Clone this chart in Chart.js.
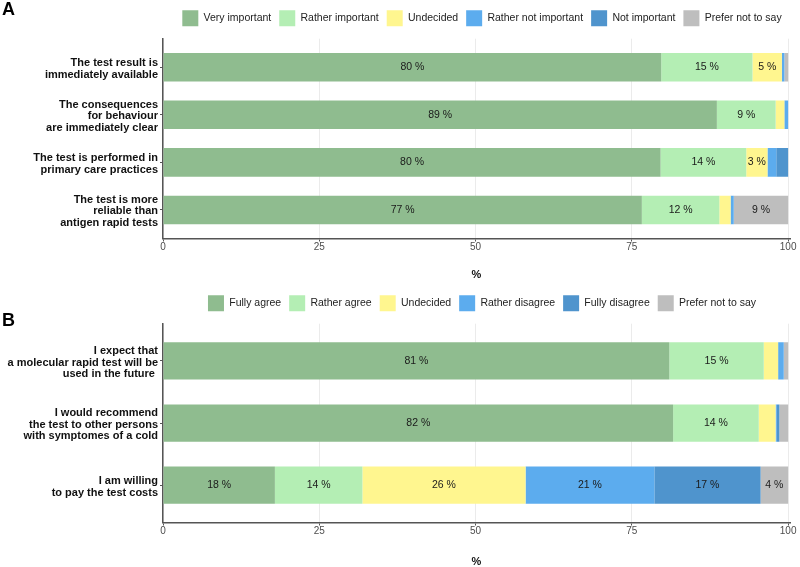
<!DOCTYPE html>
<html><head><meta charset="utf-8">
<script src="https://cdn.jsdelivr.net/npm/chart.js@4.4.0/dist/chart.umd.min.js"></script>
<style>
html,body{margin:0;padding:0;background:#fff;width:800px;height:567px;overflow:hidden;}
.panel{position:absolute;left:0;width:800px;}
.tag{position:absolute;left:2px;font:bold 18px "Liberation Sans",Arial,sans-serif;line-height:1;color:#000;z-index:2;}
</style></head><body>
<div class="panel" style="top:0;height:284px"><canvas id="cA"></canvas></div>
<div class="panel" style="top:284px;height:283px"><canvas id="cB"></canvas></div>
<div class="tag" style="top:0px">A</div>
<div class="tag" style="top:311px">B</div>
<script>
// ---- data ----
const xTicks = [0, 25, 50, 75, 100];

const catsA = [
  "The test result is\nimmediately available",
  "The consequences\nfor behaviour\nare immediately clear",
  "The test is performed in\nprimary care practices",
  "The test is more\nreliable than\nantigen rapid tests"
];
const legendA = ["Very important", "Rather important", "Undecided", "Rather not important", "Not important", "Prefer not to say"];
const veryImportant      = [79.7, 88.6, 79.6, 76.6];
const ratherImportant    = [14.6,  9.4, 13.7, 12.4];
const undecidedA         = [ 4.7,  1.4,  3.4,  1.8];
const ratherNotImportant = [ 0.4,  0.6,  1.4,  0.5];
const notImportant       = [ 0.0,  0.0,  1.9,  0.0];
const preferNotA         = [ 0.6,  0.0,  0.0,  8.7];

const catsB = [
  "I expect that\na molecular rapid test will be\nused in the future ",
  "I would recommend\nthe test to other persons\nwith symptomes of a cold",
  "I am willing\nto pay the test costs"
];
const legendB = ["Fully agree", "Rather agree", "Undecided", "Rather disagree", "Fully disagree", "Prefer not to say"];
const fullyAgree     = [81.0, 81.6, 17.9];
const ratherAgree    = [15.1, 13.7, 14.0];
const undecidedB     = [ 2.3,  2.7, 26.1];
const ratherDisagree = [ 0.9,  0.2, 20.6];
const fullyDisagree  = [ 0.0,  0.4, 17.0];
const preferNotB     = [ 0.7,  1.4,  4.4];

// ---- style ----
const FONT = '"Liberation Sans", Arial, sans-serif';
const colors = ['#8FBC8F', '#B4EEB4', '#FFF68F', '#5CACEE', '#4F94CD', '#BEBEBE'];

const valueLabels = {
  id: 'valueLabels',
  afterDatasetsDraw(chart) {
    const ctx = chart.ctx;
    ctx.save();
    ctx.font = '10.5px ' + FONT;
    ctx.fillStyle = '#1a1a1a';
    ctx.textAlign = 'center';
    ctx.textBaseline = 'middle';
    chart.data.datasets.forEach((ds, k) => {
      const meta = chart.getDatasetMeta(k);
      meta.data.forEach((el, i) => {
        const v = ds.data[i].x;
        if (v >= 3) {
          const p = el.getCenterPoint();
          ctx.fillText(Math.round(v) + ' %', p.x, p.y);
        }
      });
    });
    ctx.restore();
  }
};

// extra space under the legend and a small horizontal shift of its centre
const legendGap = {
  id: 'legendGap',
  afterInit(chart, args, opts) {
    const lg = chart.legend;
    if (!lg) return;
    const f = lg.fit;
    lg.fit = function () { f.apply(this, arguments); this.height += (opts.extra || 0); };
  },
  afterLayout(chart, args, opts) {
    const lg = chart.legend;
    if (!lg) return;
    lg.left += (opts.shift || 0);
    lg.right += (opts.shift || 0);
  }
};

function makeChart(id, cats, names, series, H, bottomY, padTop, titlePad) {
  const datasets = series.map((vals, k) => ({
    label: names[k],
    data: vals.map((v, i) => ({ x: v, y: i })),
    backgroundColor: colors[k],
    borderWidth: 0,
    barPercentage: 0.6,
    categoryPercentage: 1
  }));
  return new Chart(document.getElementById(id), {
    type: 'bar',
    data: { datasets },
    plugins: [valueLabels, legendGap],
    options: {
      responsive: true, maintainAspectRatio: false, animation: false,
      indexAxis: 'y',
      layout: { padding: { top: padTop, right: 10, left: 0, bottom: 0 } },
      scales: {
        x: {
          type: 'linear', stacked: true, min: 0, max: 100.3, offset: false,
          afterBuildTicks: s => { s.ticks = xTicks.map(v => ({ value: v })); },
          afterFit: s => { s.height = H - bottomY; },
          grid: { color: '#ebebeb', lineWidth: 1, tickColor: '#555', tickLength: 3, drawTicks: true, offset: false },
          border: { display: true, color: '#555', width: 1.5 },
          ticks: { color: '#4d4d4d', font: { family: FONT, size: 10 }, padding: 0, maxRotation: 0, autoSkip: false },
          title: { display: true, text: '%', color: '#111', font: { family: FONT, size: 11, weight: 'bold' }, padding: { top: 0, bottom: titlePad } }
        },
        y: {
          type: 'linear', stacked: true, reverse: true, min: -0.6, max: cats.length - 0.4, offset: false,
          afterBuildTicks: s => { s.ticks = cats.map((c, i) => ({ value: i })); },
          afterFit: s => { s.width = 163; },
          grid: { drawOnChartArea: false, drawTicks: true, tickLength: 3, tickColor: '#555', offset: false },
          border: { display: true, color: '#555', width: 1.5 },
          ticks: {
            color: '#111', autoSkip: false, padding: 2, labelOffset: 1.5,
            font: { family: FONT, size: 11, weight: 'bold', lineHeight: 1.05 },
            callback: v => (cats[v] !== undefined ? cats[v].split('\n') : '')
          }
        }
      },
      plugins: {
        legend: {
          position: 'top', align: 'center', fullSize: false,
          labels: { boxWidth: 16, boxHeight: 16, padding: 8, color: '#222', font: { family: FONT, size: 10.5 } }
        },
        tooltip: { enabled: false },
        legendGap: { extra: 2.4, shift: 5.5 }
      }
    }
  });
}

makeChart('cA', catsA, legendA,
  [veryImportant, ratherImportant, undecidedA, ratherNotImportant, notImportant, preferNotA],
  284, 238.5, 2.3, 2.4);
makeChart('cB', catsB, legendB,
  [fullyAgree, ratherAgree, undecidedB, ratherDisagree, fullyDisagree, preferNotB],
  283, 238.5, 3.3, -1.5);
</script>
</body></html>
